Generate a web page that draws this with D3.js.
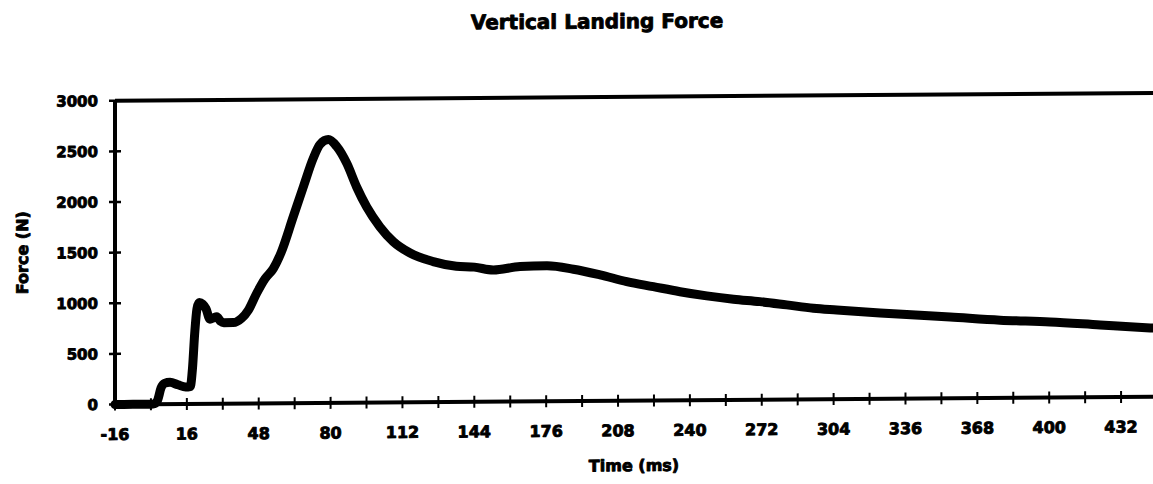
<!DOCTYPE html>
<html>
<head>
<meta charset="utf-8">
<script src="https://cdn.jsdelivr.net/npm/d3@7"></script>
<style>
	body { margin: 0; background: #fff; }
	svg { display: block; }
	text { font-family: "DejaVu Sans", "Liberation Sans", sans-serif; font-weight: bold; fill: #000; stroke: #000; stroke-width: 0.9px; stroke-linejoin: round; }
</style>
</head>
<body>
<svg id="chart"></svg>
<script>
// force plate trace
var times = [-16, -8, 0, 1.5, 3, 4.5, 6, 8.5, 12, 15.5, 17.5, 18.5, 19.5, 20.5, 21.5, 23, 24.5, 26.3, 28, 29.3,
	31, 32.5, 36.7, 40.4, 43.4, 47.1, 50.8, 54.5, 58, 63.4, 67.9, 72.3, 75.3, 79, 82.7, 87.2, 91.6, 96.1,
	102, 107.9, 115.4, 125.7, 136, 144, 152.5, 164.4, 176.3, 188.1, 200, 211.9, 223.7, 235.6, 247.5,
	259.4, 271.2, 283.1, 295, 305.4, 324.7, 355.9, 378.1, 400.4, 422.7, 445, 448];
var forces = [0, 0, 0, 5, 40, 160, 205, 215, 190, 168, 172, 350, 700, 940, 1000, 985, 940, 835, 850, 860,
	815, 800, 800, 842, 923, 1088, 1230, 1330, 1490, 1843, 2138, 2418, 2553, 2600, 2532, 2364, 2130, 1931,
	1734, 1588, 1474, 1388, 1340, 1330, 1300, 1332, 1337, 1302, 1244, 1176, 1124, 1072, 1029,
	994, 968, 934, 899, 880, 847, 802, 767, 746, 712, 679, 675];

var yTicks = [0, 500, 1000, 1500, 2000, 2500, 3000];
var xTicks = d3.range(-16, 449, 16);
var xLabels = [-16, 16, 48, 80, 112, 144, 176, 208, 240, 272, 304, 336, 368, 400, 432];

var width = 1153, height = 484;

var svg = d3.select("#chart")
	.attr("width", width)
	.attr("height", height);

// the scan is slightly sheared, so the whole figure leans a little
var g = svg.append("g")
	.attr("transform", "translate(115,0) skewY(-0.43) translate(-115,0)");

var x = d3.scaleLinear().domain([-16, 448]).range([115, 1157]);
var y = d3.scaleLinear().domain([0, 3000]).range([404.5, 100.7]);

// title
g.append("text")
	.attr("x", 597)
	.attr("y", 32)
	.attr("text-anchor", "middle")
	.style("font-size", "20px")
	.text("Vertical Landing Force");

// plot frame: top edge and the two axes
g.append("line")
	.attr("x1", x(-16)).attr("x2", x(448))
	.attr("y1", y(3000)).attr("y2", y(3000))
	.attr("stroke", "#000").attr("stroke-width", 4);

g.append("line")
	.attr("x1", x(-16)).attr("x2", x(-16))
	.attr("y1", y(0)).attr("y2", y(3000))
	.attr("stroke", "#000").attr("stroke-width", 4);

g.append("line")
	.attr("x1", x(-16)).attr("x2", x(448))
	.attr("y1", y(0)).attr("y2", y(0))
	.attr("stroke", "#000").attr("stroke-width", 4);

// y ticks cross the axis
g.selectAll(".ytick")
	.data(yTicks)
	.enter().append("line")
	.attr("class", "ytick")
	.attr("x1", x(-16) - 6).attr("x2", x(-16) + 6)
	.attr("y1", function (d) { return y(d); })
	.attr("y2", function (d) { return y(d); })
	.attr("stroke", "#000").attr("stroke-width", 2.5);

g.selectAll(".ylabel")
	.data(yTicks)
	.enter().append("text")
	.attr("class", "ylabel")
	.attr("x", 98)
	.attr("y", function (d) { return y(d); })
	.attr("dy", "0.36em")
	.attr("text-anchor", "end")
	.style("font-size", "15px")
	.text(function (d) { return d; });

// x ticks every 16 ms, labels every 32
g.selectAll(".xtick")
	.data(xTicks)
	.enter().append("line")
	.attr("class", "xtick")
	.attr("x1", function (d) { return x(d); })
	.attr("x2", function (d) { return x(d); })
	.attr("y1", y(0) - 6).attr("y2", y(0) + 6)
	.attr("stroke", "#000").attr("stroke-width", 2);

g.selectAll(".xlabel")
	.data(xLabels)
	.enter().append("text")
	.attr("class", "xlabel")
	.attr("x", function (d) { return x(d); })
	.attr("y", 440)
	.attr("text-anchor", "middle")
	.style("font-size", "16px")
	.text(function (d) { return d; });

// axis titles
g.append("text")
	.attr("transform", "translate(22,252) rotate(-90)")
	.attr("dy", "0.35em")
	.attr("text-anchor", "middle")
	.style("font-size", "16px")
	.text("Force (N)");

g.append("text")
	.attr("x", 634)
	.attr("y", 475)
	.attr("text-anchor", "middle")
	.style("font-size", "16px")
	.text("Time (ms)");

// the force curve
var line = d3.line()
	.x(function (d, i) { return x(times[i]); })
	.y(function (d) { return y(d); })
	.curve(d3.curveMonotoneX);

g.append("path")
	.datum(forces)
	.attr("d", line)
	.attr("fill", "none")
	.attr("stroke", "#000")
	.attr("stroke-width", 9)
	.attr("stroke-linejoin", "round")
	.attr("stroke-linecap", "round");
</script>
</body>
</html>
